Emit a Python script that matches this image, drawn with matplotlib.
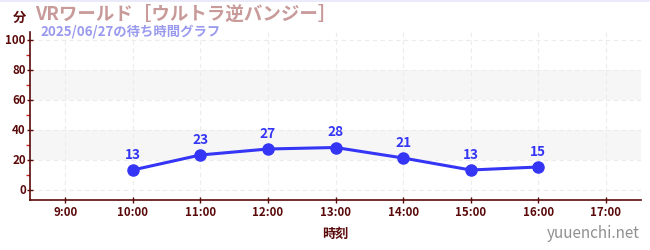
import matplotlib
matplotlib.use("Agg")
import matplotlib.pyplot as plt
from matplotlib.lines import Line2D

plt.rcParams['font.family'] = ['Noto Sans CJK JP', 'DejaVu Sans']

hours = [10, 11, 12, 13, 14, 15, 16]
waits = [13, 23, 27, 28, 21, 13, 15]
xticks = [9, 10, 11, 12, 13, 14, 15, 16, 17]
xlabels = [f"{h}:00" for h in xticks]
yticks = [0, 20, 40, 60, 80, 100]
title = "VRワールド［ウルトラ逆バンジー］"
subtitle = "2025/06/27の待ち時間グラフ"

axis_col = "#5a0a0a"
line_col = "#3535f5"

fig = plt.figure(figsize=(6.5, 2.5), dpi=100)
ax = fig.add_axes([30/650, 1-200/250, (641-30)/650, (200-32)/250])

ax.set_xlim(8.48, 17.52)
ax.set_ylim(-7, 105)

for lo, hi in [(20, 40), (60, 80)]:
    ax.axhspan(lo, hi, color="#f6f6f6", zorder=0, lw=0)

ax.set_xticks(xticks)
ax.set_xticklabels(xlabels)
ax.set_yticks(yticks)
ax.set_yticks([10, 30, 50, 70, 90], minor=True)
ax.grid(True, which="major", color="#ececec", ls=(0, (4, 3)), lw=0.8, zorder=1)

for s in ["top", "right"]:
    ax.spines[s].set_visible(False)
for s in ["left", "bottom"]:
    ax.spines[s].set_color(axis_col)
    ax.spines[s].set_linewidth(1.2)

ax.tick_params(axis="both", which="major", colors=axis_col, length=4, width=1, labelsize=8.3, direction="inout")
ax.tick_params(axis="y", which="minor", colors="#d02020", length=3, width=1)
ax.tick_params(axis="x", pad=2)
ax.tick_params(axis="y", pad=1)
for lab in ax.get_xticklabels() + ax.get_yticklabels():
    lab.set_fontweight("bold")
    lab.set_color(axis_col)

ax.plot(hours, waits, color=line_col, lw=2.2, marker="o", ms=8, zorder=3)
for h, w in zip(hours, waits):
    ax.annotate(str(w), (h, w), xytext=(0, 6), textcoords="offset points",
                ha="center", va="bottom", color=line_col, fontsize=9.8, fontweight="bold")

ax.set_xlabel("時刻", color=axis_col, fontsize=9.5, fontweight="bold", labelpad=6)

fig.text(13/650, 1-18/250, "分", color=axis_col, fontsize=9.5, fontweight="bold", ha="left", va="center")
fig.text(35/650, 1-14/250, title, color="#c89a9a", fontsize=13.3, fontweight="bold", ha="left", va="center")
fig.text(40/650, 1-31/250, subtitle, color="#9a9aee", fontsize=9.6, fontweight="bold", ha="left", va="center")
fig.text(640/650, 1-233/250, "yuuenchi.net", color="#909090", fontsize=11, ha="right", va="center")

fig.add_artist(Line2D([0, 1], [0.998, 0.998], transform=fig.transFigure, color="#e6e6fa", lw=1.2))

fig.savefig("out.png", dpi=100)
